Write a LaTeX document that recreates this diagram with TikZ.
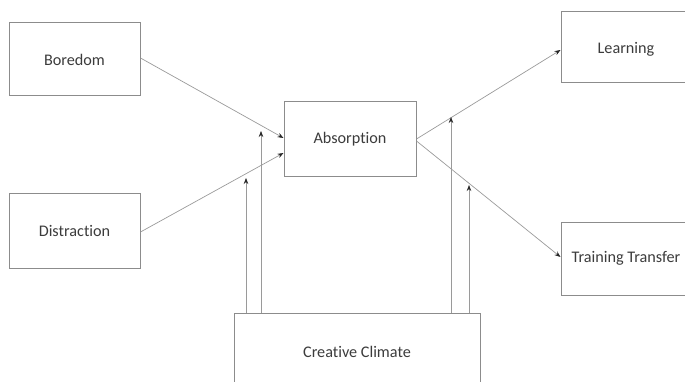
\documentclass[tikz,border=0pt]{standalone}
\usepackage{fontspec}
\setmainfont[Ligatures={NoCommon}]{Carlito}
\usetikzlibrary{arrows.meta}
\definecolor{boxline}{HTML}{8C8C8C}
\definecolor{linkline}{HTML}{9A9A9A}
\definecolor{labeltext}{HTML}{3C3C3C}
\begin{document}
\begin{tikzpicture}[x=1pt,y=-1pt,
  block/.style={draw=boxline,line width=1pt,fill=white,inner sep=0pt,
    text=labeltext,font=\fontsize{16.2}{18}\selectfont},
  link/.style={draw=linkline,line width=0.7pt,
    -{Stealth[length=6pt,width=4.5pt,color=black!85]}}]
\useasboundingbox (0,0) rectangle (685,382);
\clip (0,0) rectangle (685,382);

% boxes (corner to corner in picture units)
\node[block,minimum width=131pt,minimum height=73pt] (bor) at (74.5,59.5) {Boredom};
\node[block,minimum width=131pt,minimum height=74pt] (dis) at (74.5,231) {Distraction};
\node[block,minimum width=132pt,minimum height=75pt] (abs) at (350,139.5) {Absorption};
\node[block,minimum width=130pt,minimum height=71pt,text depth=0pt] (lea) at (626,47.5) {Learning};
\node[block,minimum width=130pt,minimum height=73pt] (tra) at (626,258.5) {Training Transfer};
\node[block,minimum width=246pt,minimum height=100pt] (cc) at (357,363) {};
\node[text=labeltext,font=\fontsize{16.2}{18}\selectfont] (cclabel) at (357,352) {Creative Climate};

% free ends of the moderating arrows
\coordinate (m1) at (246,178);
\coordinate (m2) at (261,131);
\coordinate (m3) at (451,117);
\coordinate (m4) at (469,185);

% antecedents into absorption
\draw[link] (bor.east |- 0,58) -- (abs.west |- 0,138);
\draw[link] (dis.east |- 0,232) -- (abs.west |- 0,153);

% absorption to outcomes
\draw[link] (abs.east |- 0,139) -- (lea.west |- 0,50);
\draw[link] (abs.east |- 0,141) -- (tra.west |- 0,257);

% creative climate acting on the paths
\foreach \m in {m1,m2,m3,m4}
  \draw[link] (cc.north -| \m) -- (\m);
\end{tikzpicture}
\end{document}
